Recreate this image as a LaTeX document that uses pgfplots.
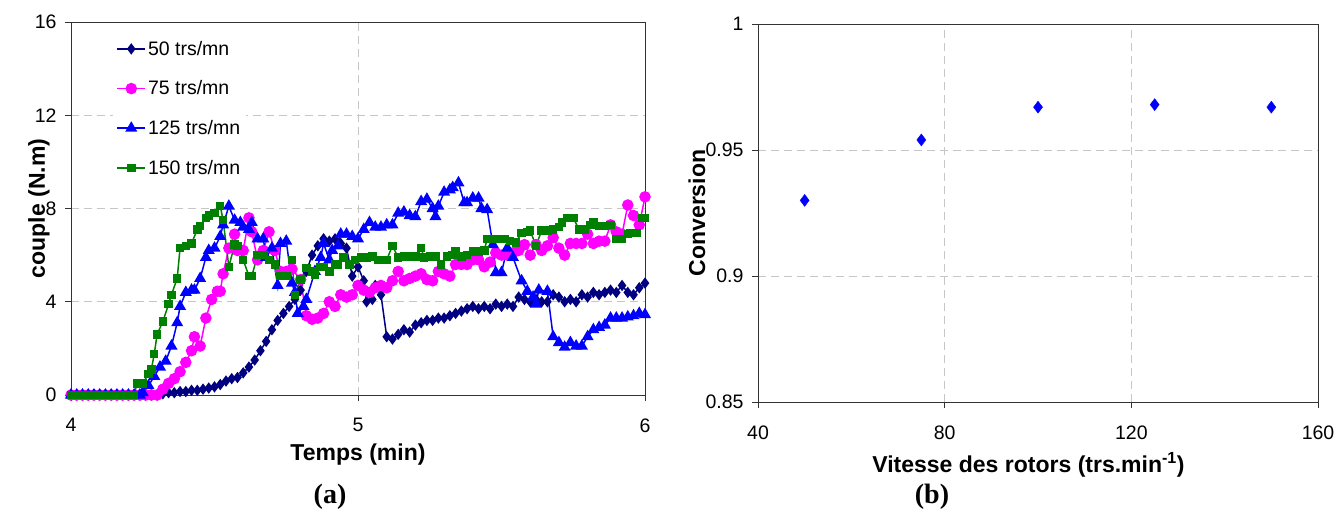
\documentclass[border=0pt]{standalone}
\usepackage{pgfplots}
\pgfplotsset{compat=1.18}
\usepackage{fontspec}
\setmainfont{Liberation Sans}
\newfontfamily\capfont{Liberation Serif}
\definecolor{navyc}{RGB}{0,0,128}
\definecolor{magc}{RGB}{255,0,255}
\definecolor{bluec}{RGB}{0,0,255}
\definecolor{greenc}{RGB}{0,128,0}
\pgfplotsset{
  myaxis/.style={
    scale only axis,
    axis line style={black!80,line width=1pt},
    tick align=outside,
    xtick pos=bottom, ytick pos=left,
    major tick length=6pt,
    tick style={black!80,line width=1pt},
    grid=major,
    major grid style={gray!45,line width=0.9pt,dash pattern=on 8pt off 5pt},
    ticklabel style={font=\fontsize{19.5}{22}\selectfont},
    /pgf/number format/assume math mode=true,
    xticklabel style={yshift=-14pt},
    yticklabel style={xshift=-5pt},
    label style={font=\fontsize{23}{26}\selectfont\bfseries},
    clip=false,
  }
}
\begin{document}
\begin{tikzpicture}
\useasboundingbox (0pt,0pt) rectangle (1337pt,-515pt);
\begin{axis}[myaxis,
  at={(71pt,-395pt)}, anchor=south west, width=574pt, height=373pt,
  xmin=4, xmax=6, ymin=0, ymax=16,
  xtick={4,5,6}, ytick={0,4,8,12,16},
  xlabel={Temps (min)},
  xlabel style={at={(axis description cs:0.5,-0.16)},anchor=center},
  ylabel={couple (N.m)},
  ylabel style={at={(axis description cs:-0.056,0.5)},anchor=center},
  legend style={at={(axis description cs:0.072,0.96)},anchor=north west,
    draw=none,fill=white,font=\fontsize{19.5}{22}\selectfont,
    row sep=20pt,inner xsep=4pt,inner ysep=2pt},
  legend cell align=left,
  legend image code/.code={\draw[mark repeat=2,mark phase=2] plot coordinates {(0pt,0pt) (14pt,0pt) (28pt,0pt)};},
]
\addplot[navyc,line width=1.5pt,mark=diamond*,mark size=4.5pt,mark options={solid,fill=navyc}] coordinates {
(4.00,0)(4.02,0)(4.04,0)(4.06,0)(4.08,0)(4.10,0)(4.12,0)(4.14,0)(4.16,0)(4.18,0)(4.20,0)(4.22,0)(4.24,0)(4.26,0)(4.28,0)(4.30,0)
(4.32,0.05)(4.34,0.1)(4.36,0.1)(4.38,0.15)(4.40,0.15)(4.42,0.2)(4.44,0.2)(4.46,0.25)(4.48,0.3)(4.50,0.35)
(4.52,0.45)(4.54,0.6)(4.56,0.7)(4.58,0.75)(4.60,0.95)(4.62,1.2)(4.64,1.5)(4.66,1.9)(4.68,2.3)(4.70,2.8)
(4.72,3.2)(4.74,3.5)(4.76,3.8)(4.78,4.1)(4.80,4.5)(4.82,5.3)(4.84,6.0)(4.86,6.4)(4.88,6.7)(4.90,6.6)
(4.92,6.7)(4.94,6.5)(4.96,6.3)(4.98,5.1)(5.00,5.5)(5.02,4.9)(5.03,4.0)(5.05,4.1)(5.06,4.7)(5.08,4.3)
(5.10,2.5)(5.12,2.4)(5.14,2.6)(5.16,2.8)(5.18,2.7)(5.20,3.0)(5.22,3.1)(5.24,3.2)(5.26,3.2)(5.28,3.3)
(5.30,3.3)(5.32,3.4)(5.34,3.5)(5.36,3.6)(5.38,3.7)(5.40,3.8)(5.42,3.7)(5.44,3.8)(5.46,3.7)(5.48,3.9)
(5.50,3.8)(5.52,3.9)(5.54,3.8)(5.56,4.2)(5.58,4.1)(5.60,4.0)(5.62,4.1)(5.64,4.0)(5.66,4.0)(5.68,4.3)
(5.70,4.2)(5.72,4.0)(5.74,4.1)(5.76,4.0)(5.78,4.3)(5.80,4.2)(5.82,4.4)(5.84,4.3)(5.86,4.4)(5.88,4.5)
(5.90,4.4)(5.92,4.7)(5.94,4.4)(5.96,4.3)(5.98,4.6)(6.00,4.8)
};
\addlegendentry{50 trs/mn}
\addplot[magc,line width=1.5pt,mark=*,mark size=5pt,mark options={solid,fill=magc}] coordinates {
(4.00,0)(4.02,0)(4.04,0)(4.06,0)(4.08,0)(4.10,0)(4.12,0)(4.14,0)(4.16,0)(4.18,0)(4.20,0)(4.22,0)(4.24,0)(4.26,0)(4.28,0)(4.30,0)
(4.32,0.25)(4.34,0.5)(4.36,0.7)(4.38,1.0)(4.40,1.4)(4.42,1.9)(4.43,2.5)(4.45,2.1)(4.47,3.3)(4.49,4.1)
(4.51,4.45)(4.52,4.45)(4.53,5.2)(4.55,6.3)(4.57,6.9)(4.58,6.2)(4.60,6.2)(4.62,7.6)(4.63,7.0)(4.65,5.8)
(4.67,6.2)(4.69,7.0)(4.71,6.2)(4.73,5.3)(4.75,5.3)(4.77,5.4)(4.80,4.95)(4.82,3.4)(4.84,3.25)(4.86,3.3)
(4.88,3.5)(4.90,4.0)(4.92,3.8)(4.94,4.3)(4.96,4.2)(4.98,4.3)(5.00,4.7)(5.02,4.5)(5.04,4.4)(5.06,4.6)
(5.08,4.7)(5.10,4.6)(5.12,4.9)(5.14,5.3)(5.16,4.9)(5.18,5.0)(5.20,5.1)(5.22,5.2)(5.24,4.95)(5.26,4.9)
(5.28,5.3)(5.30,5.2)(5.32,5.1)(5.34,5.6)(5.36,5.6)(5.38,5.6)(5.40,5.8)(5.42,5.8)(5.44,5.5)(5.46,5.7)
(5.48,6.1)(5.50,6.0)(5.52,6.0)(5.54,6.1)(5.56,6.2)(5.58,6.45)(5.60,6.0)(5.62,6.45)(5.64,6.2)(5.66,6.4)
(5.68,6.75)(5.70,6.3)(5.72,6.0)(5.74,6.5)(5.76,6.5)(5.78,6.5)(5.80,6.9)(5.82,6.5)(5.84,6.6)(5.86,6.6)
(5.88,7.3)(5.90,7.0)(5.92,6.9)(5.94,8.15)(5.96,7.7)(5.98,7.3)(6.00,8.5)
};
\addlegendentry{75 trs/mn}
\addplot[bluec,line width=1.5pt,mark=triangle*,mark size=5.5pt,mark options={solid,fill=bluec}] coordinates {
(4.00,0)(4.02,0)(4.04,0)(4.06,0)(4.08,0)(4.10,0)(4.12,0)(4.14,0)(4.16,0)(4.18,0)(4.20,0)(4.22,0)(4.24,0)
(4.25,0.1)(4.27,0.4)(4.29,0.8)(4.31,1.2)(4.33,1.45)(4.35,2.1)(4.37,3.1)(4.38,3.8)(4.40,4.4)(4.42,4.5)
(4.43,4.5)(4.45,5.0)(4.47,5.9)(4.48,6.2)(4.50,6.3)(4.52,6.8)(4.53,7.3)(4.55,8.1)(4.57,7.5)(4.59,7.4)
(4.60,7.2)(4.62,7.1)(4.63,7.4)(4.65,6.7)(4.67,6.7)(4.68,5.9)(4.70,6.3)(4.72,4.7)(4.73,6.5)(4.75,6.6)
(4.77,4.8)(4.78,4.4)(4.79,3.5)(4.81,3.8)(4.82,4.1)(4.85,5.3)(4.87,5.9)(4.88,6.5)(4.90,5.8)(4.91,6.2)
(4.93,6.4)(4.94,6.9)(4.96,6.9)(4.98,6.8)(5.00,6.7)(5.02,7.1)(5.04,7.4)(5.06,7.2)(5.08,7.2)(5.10,7.3)
(5.12,7.3)(5.14,7.8)(5.16,7.85)(5.18,7.7)(5.20,7.65)(5.22,8.3)(5.24,8.4)(5.26,8.0)(5.27,7.65)(5.28,8.1)
(5.30,8.7)(5.32,8.8)(5.33,8.9)(5.35,9.1)(5.37,8.25)(5.38,8.25)(5.40,8.45)(5.42,8.45)(5.43,8.0)(5.45,7.95)
(5.47,6.45)(5.48,5.25)(5.50,5.25)(5.52,6.3)(5.54,5.9)(5.57,4.9)(5.59,4.45)(5.61,4.2)(5.62,3.9)(5.63,4.5)
(5.66,4.45)(5.68,2.5)(5.70,2.25)(5.72,2.05)(5.74,2.25)(5.76,2.1)(5.78,2.1)(5.80,2.5)(5.82,2.8)(5.84,2.9)
(5.86,3.0)(5.88,3.3)(5.90,3.3)(5.92,3.3)(5.94,3.35)(5.96,3.4)(5.98,3.5)(6.00,3.45)
};
\addlegendentry{125 trs/mn}
\addplot[greenc,line width=1.5pt,mark=square*,mark size=3.5pt,mark options={solid,fill=greenc}] coordinates {
(4.00,0)(4.02,0)(4.04,0)(4.06,0)(4.08,0)(4.10,0)(4.12,0)(4.14,0)(4.16,0)(4.18,0)(4.20,0)(4.22,0)
(4.23,0.5)(4.25,0.5)(4.27,0.9)(4.28,1.1)(4.29,1.75)(4.30,2.6)(4.32,3.15)(4.34,3.9)(4.35,4.3)(4.37,5.0)
(4.38,6.3)(4.40,6.4)(4.42,6.5)(4.44,7.1)(4.45,7.25)(4.47,7.6)(4.48,7.7)(4.50,7.8)(4.52,8.1)(4.53,7.5)
(4.55,5.5)(4.57,6.45)(4.58,6.4)(4.60,5.8)(4.62,5.1)(4.63,5.1)(4.65,6.0)(4.67,6.0)(4.69,5.8)(4.71,5.6)
(4.73,5.1)(4.75,5.1)(4.77,5.8)(4.78,4.3)(4.80,4.95)(4.82,5.45)(4.84,5.3)(4.85,5.15)(4.87,5.5)(4.88,5.5)
(4.90,5.3)(4.92,5.6)(4.93,5.6)(4.95,5.9)(4.97,5.6)(4.99,5.8)(5.01,5.9)(5.03,5.9)(5.05,5.95)(5.07,5.8)
(5.09,5.8)(5.10,5.8)(5.12,6.4)(5.14,5.9)(5.16,5.95)(5.18,5.95)(5.20,5.95)(5.22,6.3)(5.23,5.9)(5.25,5.95)
(5.27,5.95)(5.29,5.6)(5.31,5.95)(5.33,6.0)(5.34,6.15)(5.36,5.95)(5.38,6.0)(5.40,6.15)(5.42,6.15)(5.44,6.2)
(5.45,6.7)(5.47,6.7)(5.49,6.7)(5.51,6.7)(5.53,6.6)(5.55,6.55)(5.57,6.95)(5.59,7.0)(5.60,7.05)(5.62,6.4)
(5.64,7.05)(5.66,7.05)(5.68,7.1)(5.70,7.2)(5.71,7.4)(5.73,7.6)(5.75,7.6)(5.77,7.1)(5.79,7.1)(5.81,7.3)
(5.82,7.4)(5.84,7.25)(5.86,7.25)(5.88,7.3)(5.90,6.7)(5.92,6.7)(5.94,6.9)(5.95,6.95)(5.97,6.95)(5.99,7.6)(6.00,7.6)
};
\addlegendentry{150 trs/mn}
\end{axis}
\begin{axis}[myaxis,
  at={(758pt,-402pt)}, anchor=south west, width=560pt, height=378pt,
  xmin=40, xmax=160, ymin=0.85, ymax=1,
  xtick={40,80,120,160}, ytick={0.85,0.9,0.95,1},
  yticklabel style={/pgf/number format/fixed},
  xlabel={Vitesse des rotors (trs.min\textsuperscript{-1})},
  xlabel style={at={(axis description cs:0.483,-0.167)},anchor=center},
  ylabel={Conversion},
  ylabel style={at={(axis description cs:-0.109,0.5)},anchor=center},
]
\addplot[only marks,bluec,mark=diamond*,mark size=6pt,mark options={fill=bluec}] coordinates {
(50,0.930)(75,0.954)(100,0.967)(125,0.968)(150,0.967)
};
\end{axis}
\node[font=\capfont\bfseries\fontsize{28}{30}\selectfont] at (330pt,-497pt) {(a)};
\node[font=\capfont\bfseries\fontsize{28}{30}\selectfont] at (932pt,-497pt) {(b)};
\end{tikzpicture}
\end{document}
